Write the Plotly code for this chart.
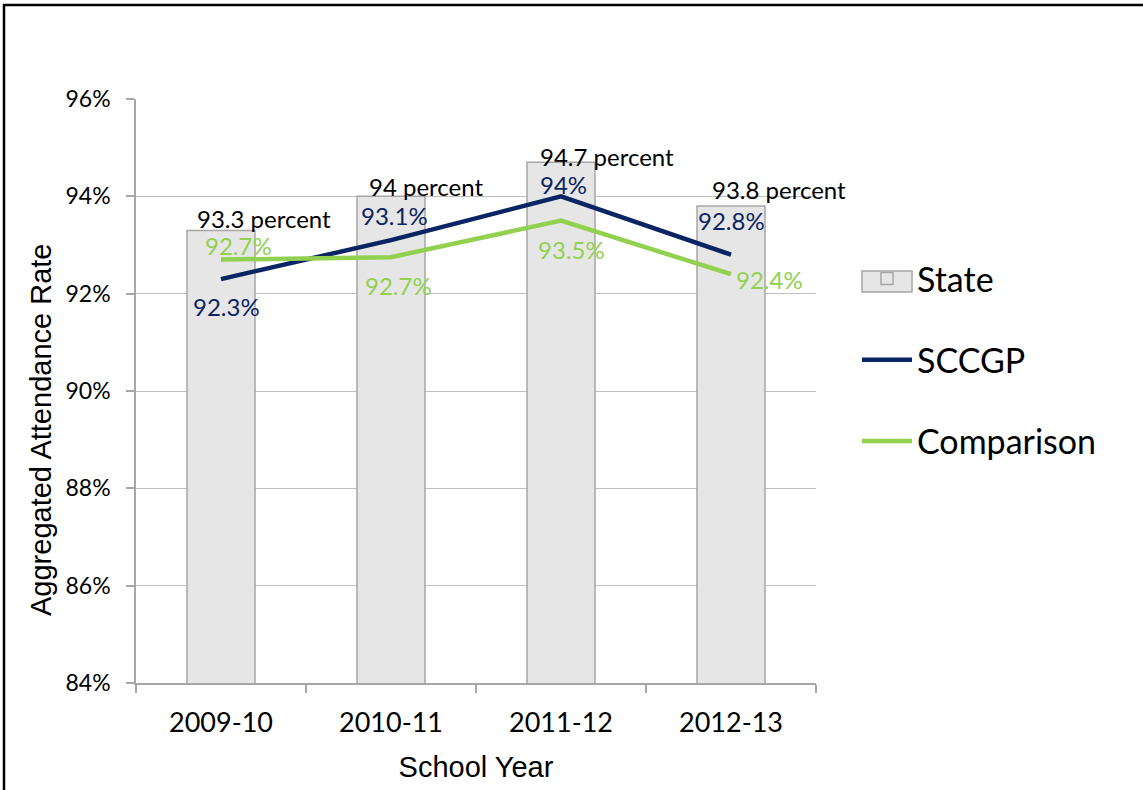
import plotly.graph_objects as go

years = ["2009-10", "2010-11", "2011-12", "2012-13"]
state = [93.3, 94.0, 94.7, 93.8]
state_labels = ["93.3 percent", "94 percent", "94.7 percent", "93.8 percent"]
sccgp = [92.3, 93.1, 94.0, 92.8]
sccgp_labels = ["92.3%", "93.1%", "94%", "92.8%"]
comparison = [92.7, 92.75, 93.5, 92.4]
comparison_labels = ["92.7%", "92.7%", "93.5%", "92.4%"]
y_ticks = [84, 86, 88, 90, 92, 94, 96]
y_tick_text = ["84%", "86%", "88%", "90%", "92%", "94%", "96%"]

NAVY = "#0b2463"
GREEN = "#92d050"
LBL_FONT = "Lato, Calibri, sans-serif"
AX_FONT = "Liberation Sans, Arial, sans-serif"

# plot area on screen: x 136..816, y 99..683
L, T, PW, PH = 136, 99, 680, 584

fig = go.Figure()
fig.add_trace(go.Bar(
    x=years, y=state, name="State", width=0.4,
    marker=dict(color="#e6e6e6", line=dict(color="#a6a6a6", width=1.5)),
    legendgroup="a",
))
fig.add_trace(go.Scatter(
    x=years, y=sccgp, name="SCCGP", mode="lines",
    line=dict(color=NAVY, width=4.5), legendgroup="b",
))
fig.add_trace(go.Scatter(
    x=years, y=comparison, name="Comparison", mode="lines",
    line=dict(color=GREEN, width=4.5), legendgroup="c",
))


def px(xpix):
    return (xpix - L) / PW


def py(ypix):
    return (T + PH - ypix) / PH


ann = []
state_shift = [(43, 12), (35, 10), (46, 6), (48, 17)]
for x, v, t, (dx, dy) in zip(years, state, state_labels, state_shift):
    ann.append(dict(x=x, y=v, text=t, showarrow=False, xshift=dx, yshift=dy,
                    font=dict(family=LBL_FONT, size=24, color="black")))
sccgp_shift = [(5, -27), (3, 25), (2, 12), (0, 34)]
for x, v, t, (dx, dy) in zip(years, sccgp, sccgp_labels, sccgp_shift):
    ann.append(dict(x=x, y=v, text=t, showarrow=False, xshift=dx, yshift=dy,
                    font=dict(family=LBL_FONT, size=24, color=NAVY)))
comp_shift = [(17, 14), (7, -28), (10, -29), (38, -5)]
for x, v, t, (dx, dy) in zip(years, comparison, comparison_labels, comp_shift):
    ann.append(dict(x=x, y=v, text=t, showarrow=False, xshift=dx, yshift=dy,
                    font=dict(family=LBL_FONT, size=24, color=GREEN)))
# y axis title
ann.append(dict(xref="paper", yref="paper", x=px(41), y=py(430), text="Aggregated Attendance Rate",
                textangle=-90, showarrow=False, xanchor="center", yanchor="middle",
                font=dict(family=AX_FONT, size=29, color="black")))

fig.update_layout(
    width=1143, height=790,
    margin=dict(l=L, r=1143 - L - PW, t=T, b=790 - T - PH),
    paper_bgcolor="white", plot_bgcolor="white",
    annotations=ann,
    showlegend=True,
    legend=dict(x=px(857), y=py(250), xanchor="left", yanchor="top",
                font=dict(family=LBL_FONT, size=34, color="black"),
                tracegroupgap=34, itemwidth=50, bgcolor="rgba(0,0,0,0)"),
    shapes=[
        dict(type="rect", xref="paper", yref="paper",
             x0=px(4), x1=1.8, y0=-0.5, y1=py(5),
             line=dict(color="black", width=2.5), layer="below"),
        dict(type="rect", xref="paper", yref="paper",
             x0=px(862), x1=px(912), y0=py(292), y1=py(271),
             fillcolor="#e6e6e6", line=dict(color="#a6a6a6", width=1.5), layer="above"),
    ],
    xaxis=dict(
        type="category", range=[-0.5, 3.5],
        showline=True, linecolor="#a6a6a6", linewidth=1.5,
        ticks="outside", tickson="boundaries", ticklen=8, tickcolor="#a6a6a6", tickwidth=1.5,
        tickfont=dict(family=LBL_FONT, size=27, color="black"),
        ticklabelstandoff=15,
        title=dict(text="School Year", font=dict(family=AX_FONT, size=29, color="black"), standoff=20),
        showgrid=False,
    ),
    yaxis=dict(
        range=[84, 96], tickmode="array", tickvals=y_ticks, ticktext=y_tick_text,
        showline=True, linecolor="#a6a6a6", linewidth=1.5,
        ticks="outside", ticklen=8, tickcolor="#a6a6a6", tickwidth=1.5,
        showgrid=True, gridcolor="#bfbfbf", gridwidth=1.2,
        tickfont=dict(family=LBL_FONT, size=23, color="black"),
        ticklabelstandoff=11,
        zeroline=False,
    ),
)

fig.write_html("out.html", config={"displayModeBar": False},
               post_script="document.body.style.margin='0px';")
